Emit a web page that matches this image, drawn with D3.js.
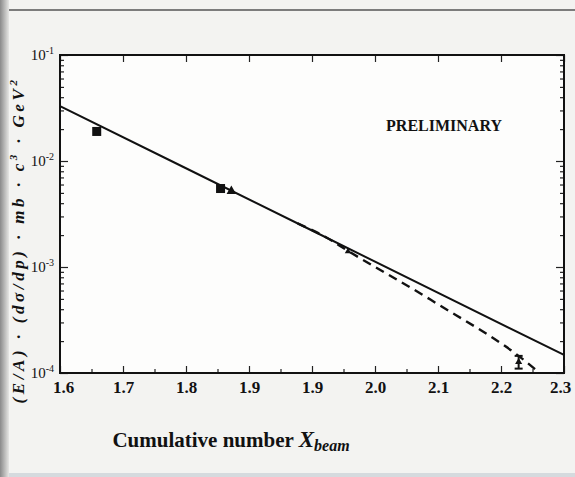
<!DOCTYPE html>
<html>
<head>
<meta charset="utf-8">
<script src="https://cdn.jsdelivr.net/npm/d3@7"></script>
<style>
  html, body { margin: 0; padding: 0; background: #f3f3f1; }
  svg { display: block; }
  text { font-family: "Liberation Serif", "DejaVu Serif", serif; fill: #111; }
</style>
</head>
<body>
<div id="chart"></div>
<script>
// tick labels as printed (the original repeats 1.9)
const xTickLabels = ["1.6", "1.7", "1.8", "1.9", "1.9", "2.0", "2.1", "2.2", "2.3"];
const yTickExps = [-1, -2, -3, -4];

// fitted curves
const solidLine = [[1.6, 3.3e-2], [1.95, 2.21e-3], [2.3, 1.48e-4]];
const dashedLine = [[1.93, 2.58e-3], [1.97, 1.9e-3], [2.0, 1.42e-3], [2.115, 4.9e-4], [2.261, 1.07e-4], [2.266, 1.0e-4]];

// measured points
const squares = [[1.651, 1.9e-2], [1.823, 5.5e-3]];
const triangles = [[1.838, 5.2e-3]];
const smallMarks = [[2.0, 1.4e-3]];
const errPoints = [[2.237, 1.27e-4, 1.1e-4, 1.45e-4]];

const width = 575, height = 477;
const margin = { left: 60, right: 11, top: 55, bottom: 104 };

const svg = d3.select("#chart").append("svg")
    .attr("width", width)
    .attr("height", height);

// scanned-page look: dark left strip, top rule, pale band at bottom
const grad = svg.append("defs").append("linearGradient").attr("id", "edge");
grad.append("stop").attr("offset", "0%").attr("stop-color", "#8a8a8a");
grad.append("stop").attr("offset", "100%").attr("stop-color", "#e6e6e4");
svg.append("rect").attr("x", 0).attr("y", 0).attr("width", 9).attr("height", height).attr("fill", "url(#edge)");
svg.append("line").attr("x1", 9).attr("x2", width).attr("y1", 10).attr("y2", 10)
    .attr("stroke", "#555").attr("stroke-width", 1.5);
svg.append("rect").attr("x", 9).attr("y", 473).attr("width", width - 9).attr("height", 4).attr("fill", "#d5dade");

const x = d3.scaleLinear()
    .domain([1.6, 2.3])
    .range([margin.left, width - margin.right]);

const y = d3.scaleLog()
    .domain([1e-4, 1e-1])
    .range([height - margin.bottom, margin.top]);

const plotW = width - margin.left - margin.right;
const plotH = height - margin.top - margin.bottom;

// tick positions: labels are evenly spaced across the frame
const step = (2.3 - 1.6) / (xTickLabels.length - 1);
const xMajor = xTickLabels.map((_, i) => 1.6 + i * step);
const xMinor = xMajor.slice(0, -1).map(v => v + step / 2);

const yMajor = yTickExps.map(e => Math.pow(10, e));
const yMinor = [];
for (let e = -4; e < -1; e++) {
    for (let k = 2; k <= 9; k++) yMinor.push(k * Math.pow(10, e));
}

svg.append("rect")
    .attr("x", margin.left).attr("y", margin.top)
    .attr("width", plotW).attr("height", plotH)
    .attr("fill", "#fdfdfc");

// axes with inward ticks
function addX(g, axisFn, vals, size, labels) {
    const ax = axisFn(x).tickValues(vals).tickSizeInner(-size).tickSizeOuter(0)
        .tickFormat((d, i) => labels ? labels[i] : "");
    g.call(ax);
    g.select(".domain").remove();
    g.selectAll(".tick line").attr("stroke", "#222").attr("stroke-width", 1.2);
}

const bottomAxis = svg.append("g").attr("transform", `translate(0,${height - margin.bottom})`);
addX(bottomAxis, d3.axisBottom, xMajor, 7, xTickLabels);
bottomAxis.selectAll(".tick text")
    .attr("dy", "1.0em")
    .style("font-size", "17px")
    .style("font-weight", "bold")
    .style("font-family", "Liberation Serif, serif")
    .attr("fill", "#111");
bottomAxis.selectAll(".tick:first-of-type text").attr("dx", 3);
bottomAxis.selectAll(".tick:last-of-type text").attr("dx", -4);
addX(svg.append("g").attr("transform", `translate(0,${height - margin.bottom})`), d3.axisBottom, xMinor, 4, null);
addX(svg.append("g").attr("transform", `translate(0,${margin.top})`), d3.axisTop, xMajor, 7, null);

function addY(g, axisFn, vals, size) {
    g.call(axisFn(y).tickValues(vals).tickSizeInner(-size).tickSizeOuter(0).tickFormat(""));
    g.select(".domain").remove();
    g.selectAll(".tick line").attr("stroke", "#222").attr("stroke-width", 1.2);
}
addY(svg.append("g").attr("transform", `translate(${margin.left},0)`), d3.axisLeft, yMajor, 8);
addY(svg.append("g").attr("transform", `translate(${margin.left},0)`), d3.axisLeft, yMinor, 4);
addY(svg.append("g").attr("transform", `translate(${width - margin.right},0)`), d3.axisRight, yMajor, 8);
addY(svg.append("g").attr("transform", `translate(${width - margin.right},0)`), d3.axisRight, yMinor, 4);

// y tick labels 10^n
yMajor.forEach((v, i) => {
    const t = svg.append("text")
        .attr("x", margin.left - 6)
        .attr("y", y(v) + 5)
        .attr("text-anchor", "end")
        .style("font-size", "15px");
    t.append("tspan").text("10");
    t.append("tspan").attr("dy", -6).style("font-size", "10px").text(yTickExps[i]);
});

// frame
svg.append("rect")
    .attr("x", margin.left).attr("y", margin.top)
    .attr("width", plotW).attr("height", plotH)
    .attr("fill", "none").attr("stroke", "#111").attr("stroke-width", 2);

const line = d3.line()
    .x(d => x(d[0]))
    .y(d => y(d[1]))
    .curve(d3.curveMonotoneX);

svg.append("path")
    .datum(solidLine)
    .attr("d", line)
    .attr("fill", "none")
    .attr("stroke", "#111")
    .attr("stroke-width", 2);

svg.append("path")
    .datum(dashedLine)
    .attr("d", line)
    .attr("fill", "none")
    .attr("stroke", "#111")
    .attr("stroke-width", 2.4)
    .attr("stroke-dasharray", "9,6");

svg.selectAll(".sq")
    .data(squares)
    .enter().append("rect")
    .attr("x", d => x(d[0]) - 4.5)
    .attr("y", d => y(d[1]) - 4.5)
    .attr("width", 9).attr("height", 9)
    .attr("fill", "#111");

svg.selectAll(".tri")
    .data(triangles)
    .enter().append("path")
    .attr("d", d3.symbol().type(d3.symbolTriangle).size(40))
    .attr("transform", d => `translate(${x(d[0])},${y(d[1])})`)
    .attr("fill", "#111");

svg.selectAll(".sm")
    .data(smallMarks)
    .enter().append("path")
    .attr("d", d3.symbol().type(d3.symbolTriangle).size(18))
    .attr("transform", d => `translate(${x(d[0])},${y(d[1])})`)
    .attr("fill", "#111");

const eb = svg.selectAll(".eb").data(errPoints).enter().append("g");
eb.append("line")
    .attr("x1", d => x(d[0])).attr("x2", d => x(d[0]))
    .attr("y1", d => y(d[2])).attr("y2", d => y(d[3]))
    .attr("stroke", "#111").attr("stroke-width", 2);
eb.append("line")
    .attr("x1", d => x(d[0]) - 4).attr("x2", d => x(d[0]) + 4)
    .attr("y1", d => y(d[2])).attr("y2", d => y(d[2]))
    .attr("stroke", "#111").attr("stroke-width", 2);
eb.append("line")
    .attr("x1", d => x(d[0]) - 4).attr("x2", d => x(d[0]) + 4)
    .attr("y1", d => y(d[3])).attr("y2", d => y(d[3]))
    .attr("stroke", "#111").attr("stroke-width", 2);
eb.append("path")
    .attr("d", d3.symbol().type(d3.symbolTriangle).size(22))
    .attr("transform", d => `translate(${x(d[0])},${y(d[1])})`)
    .attr("fill", "#111");

svg.append("text")
    .attr("x", 444)
    .attr("y", 131)
    .attr("text-anchor", "middle")
    .style("font-size", "16px")
    .style("font-weight", "bold")
    .text("PRELIMINARY");

// axis titles
const xt = svg.append("text")
    .attr("x", 231)
    .attr("y", 447)
    .attr("text-anchor", "middle")
    .style("font-size", "21px")
    .style("font-weight", "bold");
xt.append("tspan").text("Cumulative number ");
xt.append("tspan").style("font-style", "italic").style("font-size", "23px").text("X");
xt.append("tspan").attr("dy", 4).style("font-style", "italic").style("font-size", "16px").text("beam");

const yt = svg.append("text")
    .attr("transform", "translate(24,240) rotate(-90)")
    .attr("text-anchor", "middle")
    .style("font-size", "17px")
    .style("letter-spacing", "3.6px")
    .style("font-weight", "bold")
    .style("font-style", "italic");
yt.append("tspan").text("(E/A) · (dσ/dp) · mb · c");
yt.append("tspan").attr("dy", -7).style("font-size", "11px").text("3");
yt.append("tspan").attr("dy", 7).text(" · GeV");
yt.append("tspan").attr("dy", -7).style("font-size", "11px").text("2");
</script>
</body>
</html>
